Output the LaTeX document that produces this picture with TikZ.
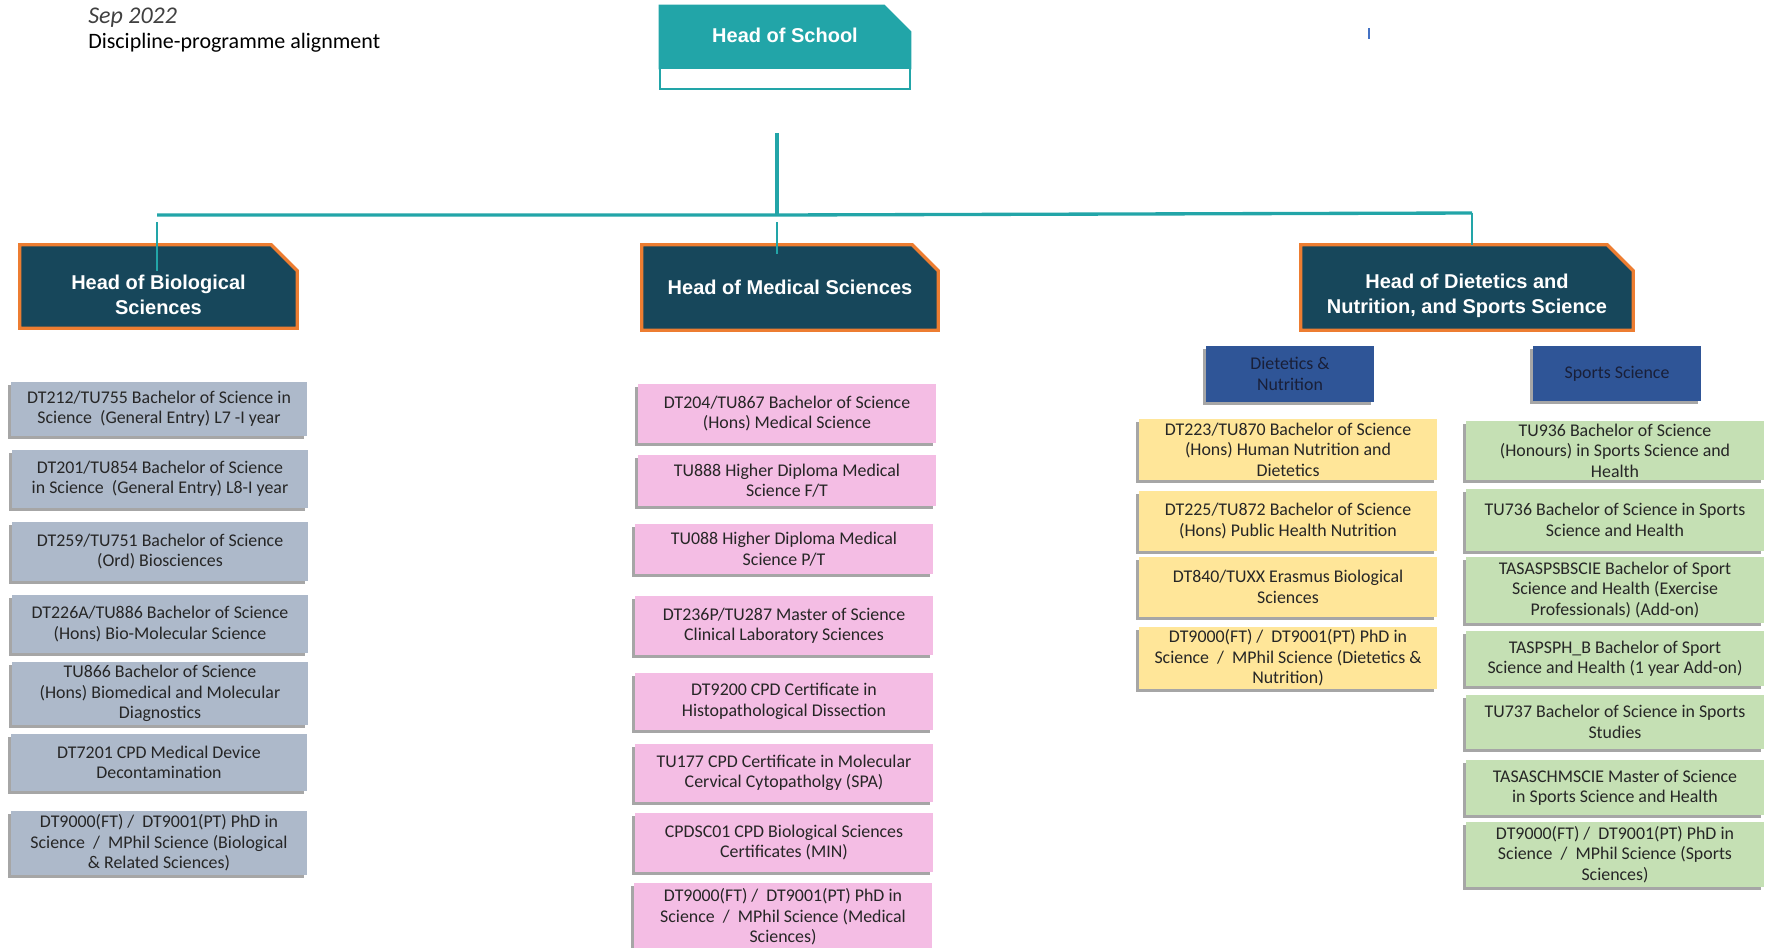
\documentclass[tikz,border=0pt]{standalone}
\usepackage{fontspec}
\setmainfont{Carlito}
\newfontfamily\headfont{Liberation Sans}
\usetikzlibrary{calc,backgrounds,shadows}

\definecolor{schoolTeal}{HTML}{22A5A8}
\definecolor{headNavy}{HTML}{17475B}
\definecolor{headOrange}{HTML}{ED7D31}
\definecolor{subBlue}{HTML}{2F5597}
\definecolor{bioGrey}{HTML}{ADB9CA}
\definecolor{medPink}{HTML}{F4BDE4}
\definecolor{dietYellow}{HTML}{FFE699}
\definecolor{sportGreen}{HTML}{C5E0B4}
\definecolor{progText}{HTML}{262626}
\definecolor{cursorBlue}{HTML}{4472C4}

% pushes the first line of a heading down
\newcommand{\headpad}{\rule{0pt}{23pt}}
% outline of a box with its top right corner cut off
\newcommand{\cutcorner}[2][]{%
  \path[#1] (#2.south west) -- (#2.north west) -- ($(#2.north east)+(-26,0)$)
    -- ($(#2.north east)+(0,26)$) -- (#2.south east) -- cycle;}

\tikzset{
  headbox/.style={rectangle, inner sep=0pt, align=center, text=white,
    font=\headfont\bfseries\fontsize{15}{18.6}\selectfont},
  headshape/.style={fill=headNavy, draw=headOrange, line width=2.5pt},
  progbox/.style={rectangle, inner sep=0pt, align=center, text=progText,
    font=\fontsize{13.4}{15.3}\selectfont,
    drop shadow={shadow xshift=-2pt, shadow yshift=-2pt, opacity=0.35, fill=black}},
  subhead/.style={progbox, fill=subBlue, minimum width=126pt, text={rgb,1:red,0.1;green,0.12;blue,0.22}},
  link/.style={draw=schoolTeal, line width=2.5pt},
}

\begin{document}
\begin{tikzpicture}[x=0.75pt,y=0.75pt,yscale=-1,xscale=1]
\useasboundingbox (0,0) rectangle (1771,947);

% Text Node
\node (date) [anchor=west, inner sep=0pt, text={rgb,1:red,0.25;green,0.25;blue,0.25}, font=\itshape\fontsize{18}{20}\selectfont] at (88,18) {Sep 2022};
% Text Node
\node (title) [anchor=west, inner sep=0pt, font=\fontsize{16.5}{19}\selectfont] at (88,43) {Discipline-programme alignment};

%Shape: Head of School
\node (hos) [headbox, minimum width=187.5pt, minimum height=46.5pt] at (785,37) {\raisebox{3pt}{Head of School}};
\node (hosbar) [draw=schoolTeal, fill=white, line width=1.5pt, minimum width=187.5pt, minimum height=15.75pt, inner sep=0pt] at (785,78.5) {};

%Shape: stray cursor mark
\draw [cursorBlue, line width=0.8pt] (1369,28) -- (1369,39);

%Shape: Heads
\node (bio) [headbox, minimum width=207.75pt, minimum height=62.25pt] at (158.5,286.5) {\headpad Head of Biological\\Sciences};
\node (med) [headbox, minimum width=222pt, minimum height=63.75pt] at (790,287.5) {\raisebox{-5pt}{Head of Medical Sciences}};
\node (diet) [headbox, minimum width=249pt, minimum height=63.75pt] at (1467,287.5) {\headpad Head of Dietetics and\\Nutrition, and Sports Science};

\begin{scope}[on background layer]
  \cutcorner[fill=schoolTeal, draw=schoolTeal, line width=1.5pt]{hos}
  \cutcorner[headshape]{bio}
  \cutcorner[headshape]{med}
  \cutcorner[headshape]{diet}
\end{scope}

%Shape: sub headings
\node (dn) [subhead, minimum height=42pt] at (1290,374) {Dietetics \&\\Nutrition};
\node (ss) [subhead, minimum height=41.25pt] at (1617,373.5) {Sports Science};

%Biological Sciences programmes
\node (g1) [progbox, fill=bioGrey, minimum width=222pt, minimum height=40.5pt] at (159,409) {DT212/TU755 Bachelor of Science in\\Science~ (General Entry) L7 -I year};
\node (g2) [progbox, fill=bioGrey, minimum width=222pt, minimum height=43.5pt] at (160,479) {DT201/TU854 Bachelor of Science\\in Science~ (General Entry) L8-I year};
\node (g3) [progbox, fill=bioGrey, minimum width=222pt, minimum height=44.25pt] at (160,551.5) {DT259/TU751 Bachelor of Science\\(Ord) Biosciences};
\node (g4) [progbox, fill=bioGrey, minimum width=222pt, minimum height=43.5pt] at (160,624) {DT226A/TU886 Bachelor of Science\\(Hons) Bio-Molecular Science};
\node (g5) [progbox, fill=bioGrey, minimum width=222pt, minimum height=47.25pt] at (160,693.5) {TU866 Bachelor of Science\\(Hons) Biomedical and Molecular\\Diagnostics};
\node (g6) [progbox, fill=bioGrey, minimum width=222pt, minimum height=42.75pt] at (159,762.5) {DT7201 CPD Medical Device\\Decontamination};
\node (g7) [progbox, fill=bioGrey, minimum width=222pt, minimum height=48pt] at (159,843) {DT9000(FT) /~ DT9001(PT) PhD in\\Science~ /~ MPhil Science (Biological\\\& Related Sciences)};

%Medical Sciences programmes
\node (p1) [progbox, fill=medPink, minimum width=223.5pt, minimum height=44.25pt] at (787,413.5) {DT204/TU867 Bachelor of Science\\(Hons) Medical Science};
\node (p2) [progbox, fill=medPink, minimum width=223.5pt, minimum height=38.25pt] at (787,480.5) {TU888 Higher Diploma Medical\\Science F/T};
\node (p3) [progbox, fill=medPink, minimum width=223.5pt, minimum height=37.5pt] at (784,549) {TU088 Higher Diploma Medical\\Science P/T};
\node (p4) [progbox, fill=medPink, minimum width=223.5pt, minimum height=44.25pt] at (784,625.5) {DT236P/TU287 Master of Science\\Clinical Laboratory Sciences};
\node (p5) [progbox, fill=medPink, minimum width=223.5pt, minimum height=42.75pt] at (784,701.5) {DT9200 CPD Certificate in\\Histopathological Dissection};
\node (p6) [progbox, fill=medPink, minimum width=223.5pt, minimum height=43.5pt] at (784,773) {TU177 CPD Certificate in Molecular\\Cervical Cytopatholgy (SPA)};
\node (p7) [progbox, fill=medPink, minimum width=223.5pt, minimum height=44.25pt] at (784,842.5) {CPDSC01 CPD Biological Sciences\\Certificates (MIN)};
\node (p8) [progbox, fill=medPink, minimum width=223.5pt, minimum height=51pt] at (783,917) {DT9000(FT) /~ DT9001(PT) PhD in\\Science~ /~ MPhil Science (Medical\\Sciences)};

%Dietetics & Nutrition programmes
\node (y1) [progbox, fill=dietYellow, minimum width=223.5pt, minimum height=45.75pt] at (1288,449.5) {DT223/TU870 Bachelor of Science\\(Hons) Human Nutrition and\\Dietetics};
\node (y2) [progbox, fill=dietYellow, minimum width=223.5pt, minimum height=45pt] at (1288,521) {DT225/TU872 Bachelor of Science\\(Hons) Public Health Nutrition};
\node (y3) [progbox, fill=dietYellow, minimum width=223.5pt, minimum height=45pt] at (1288,587) {DT840/TUXX Erasmus Biological\\Sciences};
\node (y4) [progbox, fill=dietYellow, minimum width=223.5pt, minimum height=46.5pt] at (1288,658) {DT9000(FT) /~ DT9001(PT) PhD in\\Science~ /~ MPhil Science (Dietetics \&\\Nutrition)};

%Sports Science programmes
\node (s1) [progbox, fill=sportGreen, minimum width=223.5pt, minimum height=44.25pt] at (1615,450.5) {TU936 Bachelor of Science\\(Honours) in Sports Science and\\Health};
\node (s2) [progbox, fill=sportGreen, minimum width=223.5pt, minimum height=46.5pt] at (1615,520) {TU736 Bachelor of Science in Sports\\Science and Health};
\node (s3) [progbox, fill=sportGreen, minimum width=223.5pt, minimum height=49.5pt] at (1615,590) {TASASPSBSCIE Bachelor of Sport\\Science and Health (Exercise\\Professionals) (Add-on)};
\node (s4) [progbox, fill=sportGreen, minimum width=223.5pt, minimum height=41.25pt] at (1615,658.5) {TASPSPH\_B Bachelor of Sport\\Science and Health (1 year Add-on)};
\node (s5) [progbox, fill=sportGreen, minimum width=223.5pt, minimum height=40.5pt] at (1615,722) {TU737 Bachelor of Science in Sports\\Studies};
\node (s6) [progbox, fill=sportGreen, minimum width=223.5pt, minimum height=41.25pt] at (1615,787.5) {TASASCHMSCIE Master of Science\\in Sports Science and Health};
\node (s7) [progbox, fill=sportGreen, minimum width=223.5pt, minimum height=48.75pt] at (1615,854.5) {DT9000(FT) /~ DT9001(PT) PhD in\\Science~ /~ MPhil Science (Sports\\Sciences)};

%Straight Lines: tree
\coordinate (trunk) at (777,133);
\coordinate (busL) at (157,215);
\coordinate (busM) at (777,215);
\coordinate (busR) at (1472,213);
\coordinate (bioTop) at (157,222);
\coordinate (bioEnd) at (157,271);
\coordinate (medTop) at (777,222);
\coordinate (medEnd) at (777,254);
\draw [link] (trunk) -- (busM);
\draw [link] (busL) -- (busM) -- (busR);
\draw [link, line width=2pt] (busR) -- (busR |- diet.north);
\draw [link, line width=2pt] (bioTop) -- (bioEnd);
\draw [link, line width=2pt] (medTop) -- (medEnd);

\end{tikzpicture}
\end{document}
